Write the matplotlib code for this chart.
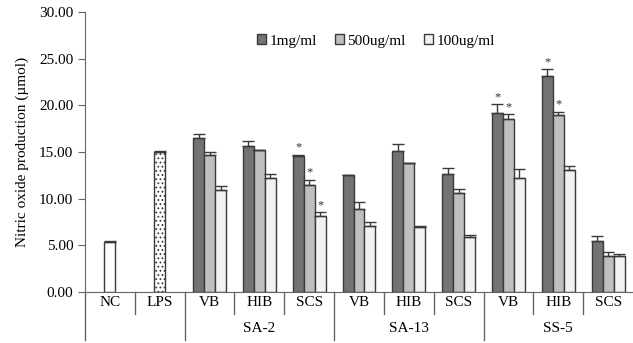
"""
Production de NO (µmol) par échantillon et par concentration.
Sauvegarde dans out.png.
"""
import matplotlib
matplotlib.use("Agg")
import matplotlib.pyplot as plt
from matplotlib.patches import Patch
import matplotlib.transforms as mtransforms
import numpy as np

# --- Données ---
categories = ["NC", "LPS", "VB", "HIB", "SCS", "VB", "HIB", "SCS", "VB", "HIB", "SCS"]
groups = ["SA-2", "SA-13", "SS-5"]
series_labels = ["1mg/ml", "500ug/ml", "100ug/ml"]

# contrôles (une seule barre)
nc_value, nc_err = 5.38, 0.12
lps_value, lps_err = 14.95, 0.13

# traitements : SA-2 (VB, HIB, SCS), SA-13 (...), SS-5 (...)
mg1 = [16.46, 15.65, 14.53, 12.54, 15.10, 12.64, 19.14, 23.10, 5.42]
mg1_err = [0.50, 0.55, 0.15, 0.00, 0.75, 0.65, 0.95, 0.75, 0.58]
ug500 = [14.68, 15.18, 11.50, 8.90, 13.78, 10.60, 18.54, 18.97, 3.82]
ug500_err = [0.32, 0.05, 0.55, 0.75, 0.05, 0.40, 0.50, 0.30, 0.45]
ug100 = [10.96, 12.20, 8.14, 7.07, 7.00, 5.85, 12.25, 13.10, 3.89]
ug100_err = [0.40, 0.40, 0.40, 0.40, 0.12, 0.30, 0.90, 0.40, 0.14]

# significativité (*)
mg1_star = [False, False, True, False, False, False, True, True, False]
ug500_star = [False, False, True, False, False, False, True, True, False]
ug100_star = [False, False, True, False, False, False, False, False, False]

yticks = [0, 5, 10, 15, 20, 25, 30]

plt.rcParams["font.family"] = ["Liberation Serif", "DejaVu Serif"]
plt.rcParams["hatch.linewidth"] = 0.8
plt.rcParams["hatch.color"] = "#555555"

colors = ["#737373", "#bfbfbf", "#f2f2f2"]
edge = "#3a3a3a"
axis_col = "#666666"
fs = 11

fig = plt.figure(figsize=(6.33, 3.43), dpi=100)
ax = fig.add_axes([85 / 633, 1 - 292 / 343, 548 / 633, 280 / 343])

width = 0.22
err_kw = dict(ecolor=edge, elinewidth=1, capsize=4, capthick=1)

# contrôles
ax.bar(0, nc_value, width, color="white", edgecolor=edge, linewidth=1,
       yerr=[[0], [nc_err]], error_kw=err_kw)
ax.bar(1, lps_value, width, color="white", edgecolor=edge, linewidth=1, hatch="....",
       yerr=[[0], [lps_err]], error_kw=err_kw)

# traitements
x = np.arange(2, 11)
all_series = [(mg1, mg1_err, mg1_star), (ug500, ug500_err, ug500_star), (ug100, ug100_err, ug100_star)]
for k, (vals, errs, stars) in enumerate(all_series):
    xs = x + (k - 1) * width
    ax.bar(xs, vals, width, color=colors[k], edgecolor=edge, linewidth=1,
           yerr=[np.zeros(len(errs)), errs], error_kw=err_kw)
    for xi, v, e, s in zip(xs, vals, errs, stars):
        if s:
            ax.annotate("*", (xi, v + e), xytext=(0, 1), textcoords="offset points",
                        ha="center", va="bottom", fontsize=9, color="#333333")

ax.set_xlim(-0.5, 10.5)
ax.set_ylim(0, 30)
ax.set_yticks(yticks)
ax.set_yticklabels([f"{t:.2f}" for t in yticks], fontsize=fs)
ax.set_xticks([])
ax.set_ylabel("Nitric oxide production (\u00b5mol)", fontsize=fs, labelpad=7)

for side in ["top", "right"]:
    ax.spines[side].set_visible(False)
for side in ["left", "bottom"]:
    ax.spines[side].set_color(axis_col)
ax.tick_params(axis="y", length=5, color=axis_col, direction="out")

# --- Axe X hiérarchique (catégories + groupes) ---
trans = mtransforms.blended_transform_factory(ax.transData, ax.transAxes)
cat_y = -11 / 280
grp_y = -37 / 280
short_bot = -22 / 280
long_bot = -48 / 280

for i, c in enumerate(categories):
    ax.text(i, cat_y, c, transform=trans, ha="center", va="center", fontsize=fs)
for g, name in enumerate(groups):
    ax.text(3 + 3 * g, grp_y, name, transform=trans, ha="center", va="center", fontsize=fs)

for xd in [0.5, 2.5, 3.5, 5.5, 6.5, 8.5, 9.5]:
    ax.plot([xd, xd], [0, short_bot], transform=trans, color=axis_col, lw=1, clip_on=False)
for xd in [-0.5, 1.5, 4.5, 7.5]:
    ax.plot([xd, xd], [0, long_bot], transform=trans, color=axis_col, lw=1, clip_on=False)

# --- Légende ---
handles = [Patch(facecolor=colors[k], edgecolor=edge, label=series_labels[k]) for k in range(3)]
fig.legend(handles=handles, loc="center", bbox_to_anchor=(376 / 633, 1 - 41 / 343),
           ncol=3, frameon=False, fontsize=fs, handlelength=0.6, handleheight=0.6,
           handletextpad=0.2, columnspacing=1.2)

fig.savefig("out.png", dpi=100)
plt.close(fig)
